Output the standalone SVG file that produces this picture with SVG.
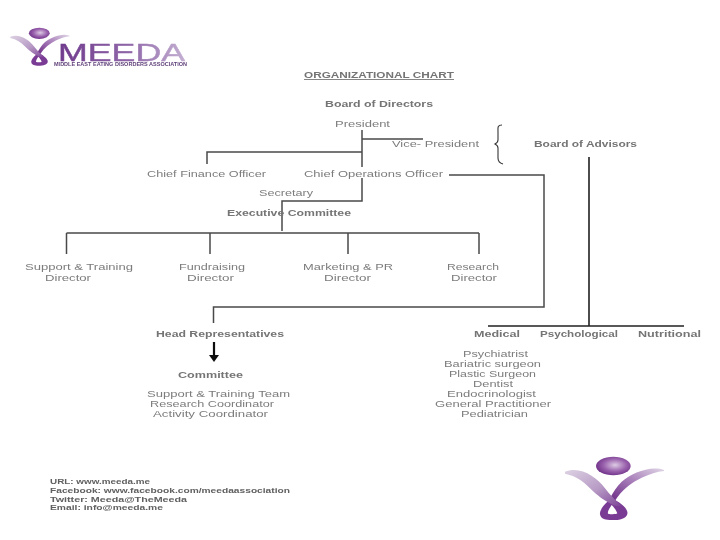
<svg xmlns="http://www.w3.org/2000/svg" xmlns:xlink="http://www.w3.org/1999/xlink" width="720" height="540" viewBox="0 0 720 540">
<style>
text{font-family:"Liberation Sans","Open Sans",sans-serif;font-size:8.600px;fill:#7c7c7c}
.b{font-weight:700;fill:#747474;font-size:9px}
.f{font-size:7.400px;fill:#606060;font-weight:700}
.c{fill:none;stroke:#4a4a4a;stroke-width:1.5}
.t{stroke:#222;stroke-width:1.6}
</style>
<defs>
<radialGradient id="orb" cx="0.55" cy="0.45" r="0.6"><stop offset="0" stop-color="#ddcbe4"/><stop offset="0.55" stop-color="#9a62ad"/><stop offset="1" stop-color="#6a2c84"/></radialGradient>
<linearGradient id="rl" x1="0" y1="0" x2="1" y2="1"><stop offset="0" stop-color="#ddd2e3"/><stop offset="0.55" stop-color="#b79ac5"/><stop offset="1" stop-color="#7d4396"/></linearGradient>
<linearGradient id="rr" x1="1" y1="0" x2="0" y2="1"><stop offset="0" stop-color="#e0d6e6"/><stop offset="0.5" stop-color="#a67cb8"/><stop offset="1" stop-color="#6b2a85"/></linearGradient>
<linearGradient id="wm" x1="0" y1="0" x2="1" y2="0"><stop offset="0" stop-color="#6f3a8c"/><stop offset="0.55" stop-color="#8f66a8"/><stop offset="1" stop-color="#c4b0d2"/></linearGradient>
<filter id="soft" x="-5%" y="-5%" width="110%" height="110%"><feGaussianBlur stdDeviation="0.35"/></filter>
<g id="mark" transform="translate(550 445) scale(0.3333)">
<ellipse cx="190" cy="63" rx="52" ry="28" fill="url(#orb)"/>
<path d="M342 75 C300 60 245 85 215 110 C200 125 190 140 180 160 L195 167 C215 135 245 112 275 98 C300 87 320 80 342 78Z" fill="url(#rr)"/>
<path fill-rule="evenodd" d="M185 160 C165 175 148 195 150 208 C152 225 175 226 195 225 C220 224 235 215 232 200 C228 185 205 170 185 160Z M185 180 C178 190 172 200 174 206 C185 209 198 208 202 205 C198 195 192 187 185 180Z" fill="#7a3a95"/>
<path d="M45 80 C90 62 140 95 165 130 C180 150 195 165 216 184 L194 182 C165 170 140 150 120 130 C100 108 75 92 45 86Z" fill="url(#rl)"/>
</g>
</defs>
<rect width="720" height="540" fill="#fff"/>
<g id="connectors" filter="url(#soft)">
<path class="c" d="M362 130V167M362 139H423M362 152H207V164"/>
<path class="c" d="M362 178V201H282V231"/>
<path class="c" d="M66.500 233H479M66.500 233V254M210 233V254M348 233V254M479 233V254"/>
<path class="c" d="M449 175H544V307H213.500V323"/>
<path class="c t" d="M589 157V326M488 326H684"/>
<path d="M502 125 C497 125 498 128 498 132 V140 C498 142 497 143 495 144 C497 145 498 146 498 148 V158 C498 161 499 163 503 164" fill="none" stroke="#333" stroke-width="1.1"/>
<path d="M214 342V356" stroke="#111" stroke-width="2.2" fill="none"/>
<path d="M209 355H219L214 362Z" fill="#111"/>
</g>
<g id="logo-top" filter="url(#soft)">
<use xlink:href="#mark" href="#mark" transform="translate(-328.700 -246.300) scale(0.6)"/>
<text x="58" y="60.500" style="font-size:23px;fill:url(#wm);stroke:url(#wm);stroke-width:0.4" textLength="127" lengthAdjust="spacingAndGlyphs">MEEDA</text>
<text x="54" y="65.500" style="font-size:4.600px;fill:#5e3f78;font-weight:700" textLength="133" lengthAdjust="spacingAndGlyphs">MIDDLE EAST EATING DISORDERS ASSOCIATION</text>
</g>
<g id="logo-bottom" filter="url(#soft)"><use xlink:href="#mark" href="#mark"/></g>
<g filter="url(#soft)">
<g id="title"><text class="b" x="304" y="77.500" textLength="150" lengthAdjust="spacingAndGlyphs">ORGANIZATIONAL CHART</text><path d="M304 79.500H454" stroke="#777" stroke-width="0.9"/></g>
<g id="board"><text class="b" x="325" y="107" textLength="108" lengthAdjust="spacingAndGlyphs">Board of Directors</text></g>
<g id="president"><text x="335" y="127" textLength="55" lengthAdjust="spacingAndGlyphs">President</text></g>
<g id="vp"><text x="392" y="146.500" textLength="87" lengthAdjust="spacingAndGlyphs">Vice- President</text></g>
<g id="advisors"><text class="b" x="534" y="146.500" textLength="103" lengthAdjust="spacingAndGlyphs">Board of Advisors</text></g>
<g id="cfo"><text x="147" y="176.500" textLength="119" lengthAdjust="spacingAndGlyphs">Chief Finance Officer</text></g>
<g id="coo"><text x="304" y="176.500" textLength="139" lengthAdjust="spacingAndGlyphs">Chief Operations Officer</text></g>
<g id="secretary"><text x="259" y="196" textLength="54" lengthAdjust="spacingAndGlyphs">Secretary</text></g>
<g id="exec"><text class="b" x="227" y="216" textLength="124" lengthAdjust="spacingAndGlyphs">Executive Committee</text></g>
<g id="support"><text x="25" y="270" textLength="108" lengthAdjust="spacingAndGlyphs">Support &amp; Training</text><text x="45" y="280.500" textLength="46" lengthAdjust="spacingAndGlyphs">Director</text></g>
<g id="fund"><text x="179" y="270" textLength="66" lengthAdjust="spacingAndGlyphs">Fundraising</text><text x="187" y="280.500" textLength="47" lengthAdjust="spacingAndGlyphs">Director</text></g>
<g id="marketing"><text x="303" y="270" textLength="90" lengthAdjust="spacingAndGlyphs">Marketing &amp; PR</text><text x="324" y="280.500" textLength="47" lengthAdjust="spacingAndGlyphs">Director</text></g>
<g id="research"><text x="447" y="270" textLength="52" lengthAdjust="spacingAndGlyphs">Research</text><text x="451" y="280.500" textLength="46" lengthAdjust="spacingAndGlyphs">Director</text></g>
<g id="head"><text class="b" x="156" y="336.500" textLength="128" lengthAdjust="spacingAndGlyphs">Head Representatives</text></g>
<g id="committee"><text class="b" x="178" y="377.500" textLength="65" lengthAdjust="spacingAndGlyphs">Committee</text>
<text x="147" y="397" textLength="143" lengthAdjust="spacingAndGlyphs">Support &amp; Training Team</text>
<text x="150" y="407" textLength="124" lengthAdjust="spacingAndGlyphs">Research Coordinator</text>
<text x="153" y="417" textLength="115" lengthAdjust="spacingAndGlyphs">Activity Coordinator</text></g>
<g id="medical"><text class="b" x="474" y="336.500" textLength="46" lengthAdjust="spacingAndGlyphs">Medical</text>
<text x="463" y="356.500" textLength="65" lengthAdjust="spacingAndGlyphs">Psychiatrist</text>
<text x="444" y="367" textLength="97" lengthAdjust="spacingAndGlyphs">Bariatric surgeon</text>
<text x="449" y="377" textLength="87" lengthAdjust="spacingAndGlyphs">Plastic Surgeon</text>
<text x="473" y="387" textLength="40" lengthAdjust="spacingAndGlyphs">Dentist</text>
<text x="447" y="397" textLength="89" lengthAdjust="spacingAndGlyphs">Endocrinologist</text>
<text x="435" y="407" textLength="116" lengthAdjust="spacingAndGlyphs">General Practitioner</text>
<text x="461" y="417" textLength="67" lengthAdjust="spacingAndGlyphs">Pediatrician</text></g>
<g id="psychological"><text class="b" x="540" y="336.500" textLength="78" lengthAdjust="spacingAndGlyphs">Psychological</text></g>
<g id="nutritional"><text class="b" x="638" y="336.500" textLength="63" lengthAdjust="spacingAndGlyphs">Nutritional</text></g>
<g id="contact">
<text class="f" x="50" y="484" textLength="100" lengthAdjust="spacingAndGlyphs">URL: www.meeda.me</text>
<text class="f" x="50" y="493" textLength="240" lengthAdjust="spacingAndGlyphs">Facebook: www.facebook.com/meedaassociation</text>
<text class="f" x="50" y="501.500" textLength="137" lengthAdjust="spacingAndGlyphs">Twitter: Meeda@TheMeeda</text>
<text class="f" x="50" y="510" textLength="113" lengthAdjust="spacingAndGlyphs">Email: info@meeda.me</text>
</g>
</g>
</svg>
